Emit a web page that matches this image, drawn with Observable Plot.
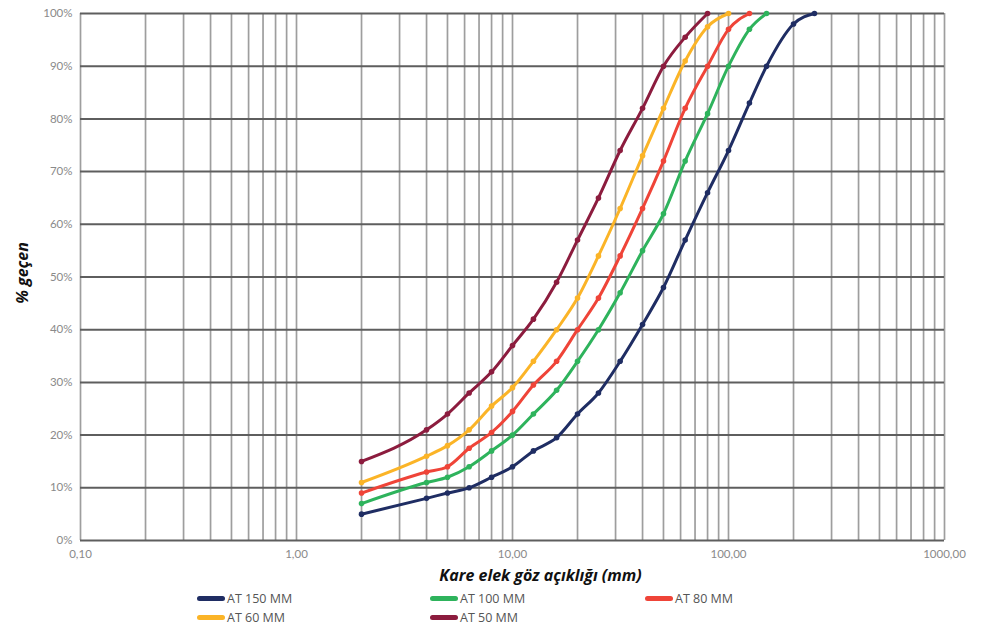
<!DOCTYPE html>
<html>
<head>
<meta charset="utf-8">
<script src="https://cdn.jsdelivr.net/npm/d3@7"></script>
<script src="https://cdn.jsdelivr.net/npm/@observablehq/plot@0.6"></script>
<style>
  body { margin: 0; background: #fff; }
  #wrap { position: relative; width: 981px; height: 632px; overflow: hidden; background: #fff; }
  .legend { position: absolute; font-family: "Open Sans", sans-serif; font-size: 12.5px; color: #555; display: flex; align-items: center; }
  .sw { display: inline-block; width: 28px; height: 5px; border-radius: 3px; margin-right: 2px; }
</style>
</head>
<body>
<div id="wrap"></div>
<script>
// Sieve sizes (mm)
const sieves = [2, 4, 5, 6.3, 8, 10, 12.5, 16, 20, 25, 31.5, 40, 50, 63, 80, 100, 125, 150, 200, 250];
// % passing per series
const at150 = [5, 8, 9, 10, 12, 14, 17, 19.5, 24, 28, 34, 41, 48, 57, 66, 74, 83, 90, 98, 100];
const at100 = [7, 11, 12, 14, 17, 20, 24, 28.5, 34, 40, 47, 55, 62, 72, 81, 90, 97, 100];
const at80  = [9, 13, 14, 17.5, 20.5, 24.5, 29.5, 34, 40, 46, 54, 63, 72, 82, 90, 97, 100];
const at60  = [11, 16, 18, 21, 25.5, 29, 34, 40, 46, 54, 63, 73, 82, 91, 97.5, 100];
const at50  = [15, 21, 24, 28, 32, 37, 42, 49, 57, 65, 74, 82, 90, 95.5, 100];

const seriesNames = ["AT 150 MM", "AT 100 MM", "AT 80 MM", "AT 60 MM", "AT 50 MM"];
const seriesValues = [at150, at100, at80, at60, at50];
const seriesColors = ["#1f2d63", "#2eb35c", "#ef4438", "#fbb427", "#8c1c3e"];

const xTicks = [0.1, 1, 10, 100, 1000];
const yTicks = [0, 10, 20, 30, 40, 50, 60, 70, 80, 90, 100];

const vgrid = [];
for (const p of [0.1, 1, 10, 100]) for (let k = 1; k <= 9; k++) vgrid.push(+(k * p).toPrecision(3));
vgrid.push(1000);

const rows = [];
seriesNames.forEach((name, i) => {
  seriesValues[i].forEach((v, j) => rows.push({series: name, size: sieves[j], pct: v}));
});

const color = {domain: seriesNames, range: seriesColors};

const chart = Plot.plot({
  width: 981,
  height: 588,
  marginLeft: 80,
  marginRight: 37,
  marginTop: 13,
  marginBottom: 48,
  x: {type: "log", domain: [0.1, 1000]},
  y: {domain: [0, 100]},
  color,
  style: {fontFamily: "Lato, 'Open Sans', sans-serif", fontSize: "11.5px", color: "#8a8a8a", background: "white", overflow: "visible"},
  marks: [
    Plot.ruleX(vgrid, {stroke: "#9e9e9e", strokeWidth: 1.7}),
    Plot.ruleY(yTicks, {stroke: "#5e5e5e", strokeWidth: 2}),
    Plot.axisY(yTicks, {tickFormat: d => d + "%", tickSize: 0, tickPadding: 8, label: null}),
    Plot.axisX(xTicks, {tickFormat: d => d3.format(".2f")(d).replace(".", ","), tickSize: 0, tickPadding: 9, label: null}),
    Plot.line(rows, {x: "size", y: "pct", z: "series", stroke: "series", strokeWidth: 3, curve: "monotone-x"}),
    Plot.dot(rows, {x: "size", y: "pct", fill: "series", r: 2.8}),
    Plot.text(["Kare elek göz açıklığı (mm)"], {frameAnchor: "bottom", dx: 28, dy: 40, fontSize: 16, fontWeight: "bold", fontStyle: "italic", fill: "#111", fontFamily: "'Open Sans', sans-serif"}),
    Plot.text(["% geçen"], {frameAnchor: "left", textAnchor: "middle", dx: -58, dy: -4, rotate: -90, fontSize: 16, fontWeight: "bold", fontStyle: "italic", fill: "#111", fontFamily: "'Open Sans', sans-serif"})
  ]
});

const wrap = document.getElementById("wrap");
wrap.appendChild(chart);

const legendPos = [
  {left: 197, top: 590}, {left: 430, top: 590}, {left: 645, top: 590},
  {left: 197, top: 609}, {left: 430, top: 609}
];
seriesNames.forEach((name, i) => {
  const d = document.createElement("div");
  d.className = "legend";
  d.style.left = legendPos[i].left + "px";
  d.style.top = legendPos[i].top + "px";
  d.innerHTML = `<span class="sw" style="background:${seriesColors[i]}"></span>${name}`;
  wrap.appendChild(d);
});
</script>
</body>
</html>
